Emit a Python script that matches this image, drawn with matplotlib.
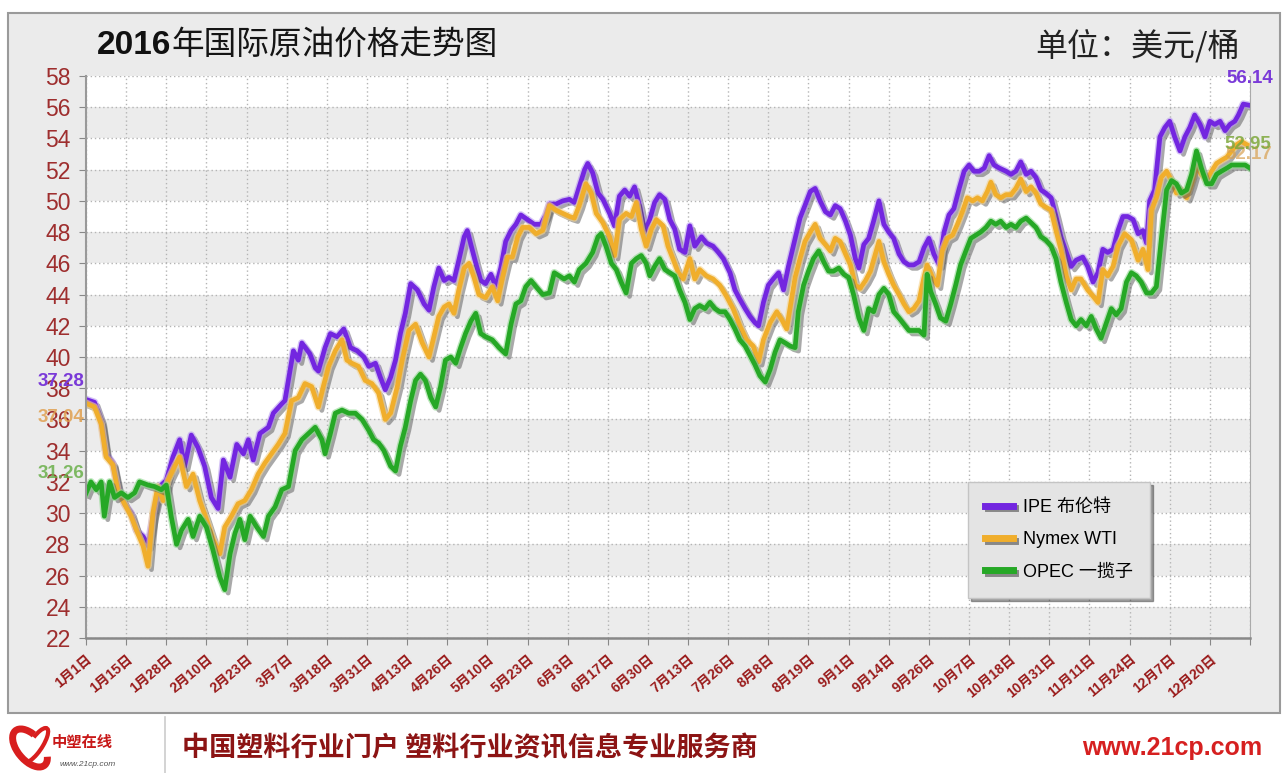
import matplotlib
matplotlib.use('Agg')
import matplotlib.pyplot as plt
import matplotlib.patheffects as pe
from matplotlib.patches import Rectangle, Arc
from matplotlib.text import Annotation
import numpy as np

plt.rcParams['font.family'] = ['Liberation Sans', 'Noto Sans CJK SC', 'DejaVu Sans']
plt.rcParams['axes.unicode_minus'] = False

# ---- data (trading-day index, price) ----
tick_labels = ['1月1日', '1月15日', '1月28日', '2月10日', '2月23日', '3月7日', '3月18日',
               '3月31日', '4月13日', '4月26日', '5月10日', '5月23日', '6月3日', '6月17日',
               '6月30日', '7月13日', '7月26日', '8月8日', '8月19日', '9月1日', '9月14日',
               '9月26日', '10月7日', '10月18日', '10月31日', '11月11日', '11月24日',
               '12月7日', '12月20日', '']

brent_day = [0, 1.9, 3.4, 4.5, 6.0, 7.1, 8.6, 10.1, 11.3, 12.8, 13.9, 15.0, 16.5, 18.0, 19.5,
             21.0, 22.1, 23.6, 25.1, 26.6, 28.1, 29.6, 30.8, 32.3, 33.8, 35.3, 36.4, 37.5, 39.0,
             40.9, 42.0, 43.9, 44.6, 46.5, 47.6, 48.4, 50.2, 51.4, 52.1, 53.6, 54.8, 56.3, 57.8,
             59.3, 60.8, 62.3, 63.4, 64.9, 66.0, 67.1, 68.3, 69.4, 70.5, 71.6, 72.8, 74.3, 75.8,
             76.9, 78.0, 79.1, 80.3, 81.4, 82.5, 83.6, 84.8, 85.5, 86.3, 87.4, 88.5, 89.6, 90.8,
             91.9, 93.0, 94.1, 95.3, 96.4, 97.5, 99.0, 100.5, 102.0, 103.1, 103.9, 105.4, 106.9,
             108.4, 109.5, 110.6, 111.8, 112.5, 113.6, 114.8, 115.9, 117.4, 118.5, 119.6, 120.8,
             121.9, 123.0, 124.1, 125.3, 126.4, 127.5, 128.6, 129.8, 130.9, 132.0, 133.1, 134.3,
             135.4, 136.5, 138.0, 139.1, 140.6, 141.8, 142.9, 144.4, 145.5, 146.6, 147.8, 148.9,
             150.0, 150.8, 151.9, 153.0, 154.1, 155.3, 156.4, 157.5, 159.0, 160.1, 161.2, 162.4,
             163.5, 164.6, 165.8, 166.9, 168.0, 169.1, 170.3, 171.4, 172.5, 173.3, 174.4, 175.5,
             176.6, 177.8, 178.9, 180.0, 181.1, 182.3, 183.4, 184.5, 185.6, 186.8, 187.9, 189.0,
             190.1, 191.3, 192.4, 193.5, 194.6, 195.8, 196.9, 198.0, 199.1, 200.3, 201.4, 202.5,
             203.6, 204.8, 206.3, 207.4, 208.5, 209.6, 210.8, 211.9, 213.0, 214.1, 215.2, 216.4,
             217.5, 218.6, 219.8, 220.9, 222.0, 223.5, 224.6, 225.8, 226.9, 228.0, 229.1, 230.3,
             231.4, 232.5, 233.6, 234.8, 235.9, 237.0, 237.8, 238.5, 239.6, 240.8, 241.9, 243.0,
             244.1, 245.3, 246.4, 247.5, 248.6, 249.8, 250.9, 252.0, 253.1, 254.3, 255.4, 256.5,
             257.6, 258.4, 259.5, 260.6]
brent_price = [37.28, 37.1, 35.9, 33.8, 33.2, 31.7, 30.6, 30.0, 28.9, 28.5, 27.9, 29.8, 31.7, 32.1,
               33.6, 34.7, 33.0, 35.0, 34.2, 33.0, 31.0, 30.3, 33.4, 32.3, 34.4, 33.8, 34.7, 33.4,
               35.1, 35.5, 36.4, 37.0, 37.2, 40.4, 39.8, 40.9, 40.2, 39.3, 39.1, 40.6, 41.5, 41.3,
               41.8, 40.6, 40.4, 40.0, 39.4, 39.6, 38.7, 37.9, 38.7, 39.8, 41.5, 42.8, 44.7, 44.3,
               43.4, 43.0, 44.5, 45.7, 44.9, 45.1, 44.9, 46.2, 47.7, 48.1, 47.2, 46.0, 44.9, 44.7,
               45.3, 44.5, 45.7, 47.4, 48.1, 48.5, 49.1, 48.8, 48.5, 48.5, 49.1, 49.8, 49.8, 50.0,
               50.1, 49.9, 50.9, 52.0, 52.4, 51.8, 50.5, 50.1, 49.2, 48.4, 50.3, 50.7, 50.3, 50.9,
               49.7, 48.0, 48.8, 49.9, 50.4, 50.1, 48.8, 48.2, 46.9, 46.7, 48.4, 47.1, 47.7, 47.3,
               47.1, 46.7, 46.3, 45.4, 44.3, 43.7, 43.1, 42.6, 42.2, 42.0, 43.5, 44.6, 45.0, 45.4,
               44.3, 45.8, 47.6, 48.9, 49.7, 50.6, 50.8, 50.0, 49.3, 49.1, 49.7, 49.5, 48.7, 47.8,
               46.3, 45.7, 47.2, 47.6, 48.7, 50.0, 48.5, 48.0, 47.6, 46.6, 46.1, 45.9, 45.9, 46.1,
               47.0, 47.6, 46.6, 45.9, 48.0, 49.1, 49.5, 50.8, 51.9, 52.3, 51.9, 51.9, 52.1, 52.9,
               52.3, 52.1, 51.9, 51.7, 51.9, 52.5, 51.7, 51.9, 51.5, 50.7, 50.5, 50.2, 49.0, 47.7,
               46.7, 45.8, 46.2, 46.4, 45.8, 44.8, 45.4, 46.9, 46.7, 46.9, 48.1, 49.0, 49.0, 48.8,
               47.9, 48.1, 47.3, 50.0, 50.7, 54.1, 54.7, 55.1, 54.1, 53.2, 54.1, 54.7, 55.5, 54.9,
               54.1, 55.1, 54.9, 55.1, 54.5, 54.9, 55.1, 55.5, 56.2, 56.14]

wti_day = [0, 1.9, 3.4, 4.5, 6.0, 7.1, 8.6, 10.1, 11.6, 12.8, 13.9, 15.0, 16.1, 17.3, 18.4, 19.9,
           21.0, 22.5, 24.0, 25.5, 27.0, 28.5, 30.0, 31.1, 32.6, 34.1, 35.6, 37.1, 38.6, 40.1,
           41.6, 43.1, 44.6, 46.1, 47.6, 49.1, 50.6, 52.1, 53.2, 54.4, 55.9, 57.4, 58.5, 59.6,
           61.1, 62.6, 64.1, 65.6, 67.1, 68.3, 69.8, 70.9, 72.4, 73.9, 75.4, 76.9, 78.0, 79.1,
           80.3, 81.4, 82.5, 83.6, 84.8, 85.9, 87.0, 88.1, 89.6, 91.1, 92.3, 93.4, 94.5, 95.6,
           96.8, 97.9, 99.4, 100.9, 102.4, 103.9, 105.4, 106.9, 108.4, 109.5, 110.6, 112.1, 113.3,
           114.4, 115.9, 117.4, 118.5, 119.6, 121.1, 122.3, 123.4, 124.5, 125.6, 126.8, 127.9,
           129.4, 130.5, 131.6, 132.8, 133.9, 135.4, 136.5, 137.6, 139.1, 140.6, 142.1, 143.6,
           145.1, 146.6, 148.1, 149.6, 150.8, 151.9, 153.4, 154.9, 156.0, 157.1, 159.0, 160.1,
           161.2, 162.4, 163.5, 164.6, 165.8, 166.9, 168.0, 169.1, 170.3, 171.4, 172.5, 173.6,
           174.8, 175.9, 177.0, 177.8, 178.9, 180.0, 181.1, 182.3, 183.4, 184.5, 185.6, 186.8,
           187.9, 188.6, 189.8, 190.9, 192.0, 193.1, 194.3, 195.4, 196.5, 197.6, 198.8, 199.9,
           201.0, 202.1, 202.9, 204.0, 205.1, 206.3, 207.4, 208.5, 209.6, 210.8, 211.9, 213.0,
           214.1, 215.2, 216.4, 217.5, 218.6, 219.8, 220.9, 222.0, 223.1, 224.6, 225.8, 226.9,
           228.0, 229.1, 230.3, 231.4, 232.9, 234.4, 235.9, 237.0, 238.1, 238.9, 240.0, 241.1,
           242.3, 243.4, 244.5, 245.6, 246.8, 247.9, 249.0, 250.1, 251.3, 252.4, 253.5, 254.6,
           255.8, 256.9, 258.0, 259.1, 260.3]
wti_price = [37.04, 36.8, 35.7, 33.6, 33.1, 31.5, 30.6, 29.8, 28.7, 27.9, 26.6, 30.0, 31.7, 30.8,
             32.1, 33.0, 33.6, 31.7, 32.5, 30.8, 29.6, 28.3, 27.4, 29.1, 29.8, 30.6, 30.8, 31.5,
             32.5, 33.2, 33.8, 34.4, 35.1, 37.2, 37.4, 38.3, 38.1, 36.8, 38.1, 39.4, 40.4, 41.1,
             39.8, 39.6, 39.4, 38.5, 38.3, 37.7, 36.0, 36.4, 38.1, 39.8, 41.7, 42.1, 40.9, 40.0,
             41.3, 42.6, 43.2, 43.4, 42.8, 44.3, 45.7, 46.0, 45.1, 44.0, 43.8, 44.5, 43.6, 45.1,
             46.4, 46.4, 47.7, 48.3, 48.3, 47.9, 48.1, 49.7, 49.4, 49.2, 49.0, 48.9, 49.7, 51.1,
             50.5, 49.2, 48.6, 47.7, 46.5, 48.8, 49.2, 49.0, 49.9, 48.2, 47.1, 48.2, 48.8, 48.4,
             47.1, 46.3, 45.4, 45.0, 46.3, 45.0, 45.6, 45.2, 45.0, 44.6, 43.9, 43.1, 42.0, 41.1,
             40.7, 39.7, 41.1, 42.2, 42.9, 42.4, 41.8, 45.1, 46.3, 47.4, 48.0, 48.5, 47.6, 47.2,
             46.8, 47.6, 47.4, 46.6, 45.9, 44.6, 44.4, 44.9, 45.5, 46.6, 47.4, 46.1, 45.3, 44.6,
             44.0, 43.4, 42.9, 43.1, 43.6, 45.1, 45.9, 45.1, 44.6, 46.8, 47.6, 47.8, 48.5, 49.3,
             50.2, 50.0, 50.2, 50.0, 50.6, 51.2, 50.4, 50.2, 50.4, 50.4, 50.8, 51.4, 50.6, 50.9,
             50.5, 49.8, 49.6, 49.4, 48.1, 46.9, 45.2, 44.3, 45.0, 45.0, 44.3, 43.9, 43.5, 45.6,
             45.2, 45.8, 47.1, 47.9, 47.5, 46.2, 46.9, 45.6, 49.4, 50.2, 51.5, 51.9, 51.3, 50.5,
             50.7, 50.2, 51.1, 52.2, 51.7, 51.3, 51.9, 52.4, 52.6, 52.8, 53.2, 53.6, 53.8, 53.6]

opec_day = [0, 1.1, 2.3, 3.4, 4.1, 5.3, 6.4, 7.9, 9.4, 10.9, 12.0, 13.9, 15.4, 16.9, 18.0, 19.1,
            20.3, 21.4, 22.9, 24.0, 25.5, 27.0, 28.5, 30.0, 31.1, 32.3, 33.4, 34.5, 35.6, 36.8,
            38.3, 39.8, 40.9, 42.4, 43.9, 45.4, 46.9, 48.4, 49.9, 51.4, 52.9, 53.6, 54.8, 55.9,
            57.4, 58.9, 60.4, 61.9, 63.4, 64.5, 65.6, 66.8, 68.3, 69.4, 70.5, 71.6, 72.8, 73.9,
            75.0, 76.1, 77.3, 78.4, 79.5, 80.6, 81.8, 82.9, 84.0, 85.1, 86.3, 87.4, 88.5, 89.6,
            91.1, 92.6, 94.1, 95.3, 96.4, 97.5, 98.6, 99.8, 100.9, 102.4, 103.9, 105.0, 106.1,
            107.2, 108.4, 109.5, 110.6, 112.1, 113.6, 114.8, 115.5, 116.6, 117.8, 118.9, 120.0,
            121.1, 122.3, 123.4, 124.5, 125.6, 126.4, 127.5, 128.6, 129.8, 130.9, 132.0, 133.1,
            134.3, 135.4, 136.5, 137.6, 138.8, 139.9, 141.0, 142.1, 143.3, 144.4, 145.5, 146.6,
            147.8, 148.9, 150.0, 151.1, 152.3, 153.4, 154.5, 155.6, 156.8, 157.9, 159.0, 159.7,
            160.9, 162.0, 163.1, 164.3, 165.4, 166.5, 167.6, 168.8, 169.9, 171.0, 172.1, 173.3,
            174.4, 175.5, 176.6, 177.8, 178.9, 180.0, 181.1, 182.3, 183.4, 184.5, 185.6, 186.8,
            187.9, 188.6, 189.4, 190.5, 191.6, 192.8, 193.9, 195.0, 196.1, 197.3, 198.4, 199.5,
            200.6, 201.8, 202.9, 204.0, 205.1, 206.3, 207.4, 208.5, 209.6, 210.8, 211.9, 213.0,
            214.1, 215.2, 216.4, 217.5, 218.6, 219.8, 220.9, 222.0, 223.1, 224.3, 225.4, 226.5,
            227.6, 228.8, 229.9, 231.0, 232.1, 233.3, 234.4, 235.5, 236.6, 237.8, 238.9, 240.0,
            241.1, 242.3, 243.4, 244.5, 245.6, 246.8, 247.9, 249.0, 250.1, 251.3, 252.4, 253.5,
            254.6, 255.8, 256.9, 258.4, 259.9, 261.0]
opec_price = [31.26, 32.0, 31.5, 32.0, 29.8, 32.0, 31.0, 31.3, 31.0, 31.3, 32.0, 31.8, 31.7, 31.5,
              31.8, 29.8, 28.0, 28.9, 29.6, 28.5, 29.8, 29.1, 27.6, 25.9, 25.1, 27.4, 28.7, 29.6,
              28.3, 29.8, 29.1, 28.5, 29.8, 30.4, 31.5, 31.7, 34.0, 34.7, 35.1, 35.5, 34.7, 33.8,
              35.1, 36.4, 36.6, 36.4, 36.4, 36.0, 35.3, 34.7, 34.5, 34.0, 33.0, 32.7, 34.3, 35.5,
              37.2, 38.5, 38.9, 38.5, 37.4, 36.8, 38.1, 39.8, 40.0, 39.6, 40.6, 41.5, 42.3, 42.8,
              41.5, 41.3, 41.1, 40.6, 40.2, 42.1, 43.4, 43.6, 44.5, 44.9, 44.5, 44.0, 44.1, 45.4,
              45.2, 45.0, 45.2, 44.8, 45.6, 46.0, 46.7, 47.7, 47.9, 47.1, 46.0, 45.6, 44.8, 44.1,
              46.0, 46.3, 46.5, 46.0, 45.2, 45.8, 46.3, 45.6, 45.4, 45.2, 44.3, 43.5, 42.4, 43.1,
              43.3, 43.1, 43.5, 43.1, 42.9, 42.9, 42.4, 41.8, 41.1, 40.7, 40.1, 39.5, 38.8, 38.4,
              39.2, 40.3, 41.1, 40.9, 40.7, 40.6, 42.9, 44.6, 45.5, 46.3, 46.8, 46.1, 45.5, 45.5,
              45.7, 45.3, 45.1, 44.0, 42.5, 41.7, 43.1, 42.9, 44.0, 44.4, 44.0, 42.9, 42.5, 42.1,
              41.7, 41.7, 41.7, 41.4, 45.3, 44.2, 43.4, 42.5, 42.3, 43.4, 44.6, 45.9, 46.8, 47.6,
              47.8, 48.0, 48.3, 48.7, 48.5, 48.7, 48.3, 48.5, 48.3, 48.7, 48.9, 48.6, 48.3, 47.7,
              47.5, 47.1, 46.3, 44.8, 43.5, 42.4, 42.0, 42.4, 42.0, 42.6, 41.8, 41.2, 42.2, 43.1,
              42.7, 43.1, 44.8, 45.4, 45.2, 44.8, 44.1, 44.1, 44.5, 47.5, 50.7, 51.3, 51.1, 50.5,
              50.7, 51.7, 53.2, 52.1, 51.1, 51.1, 51.7, 51.9, 52.1, 52.3, 52.3, 52.3, 52.1]

series = [
    ('IPE 布伦特', brent_day, brent_price, '#7326e0', '#b89af0'),
    ('Nymex WTI', wti_day, wti_price, '#f0ae2c', '#f6d48e'),
    ('OPEC 一揽子', opec_day, opec_price, '#26a826', '#8fd88f'),
]

W, H = 1283, 773
fig = plt.figure(figsize=(W / 100, H / 100), dpi=100)
fig.patch.set_facecolor('white')

# chart panel
fig.patches.append(Rectangle((8 / W, 1 - 713 / H), (1280 - 8) / W, (713 - 13) / H,
                             transform=fig.transFigure, facecolor='#ebebeb',
                             edgecolor='#9a9a9a', lw=1.5, zorder=-5))

ax = fig.add_axes([86 / W, 1 - 638 / H, (1250 - 86) / W, (638 - 76) / H])
ax.set_zorder(3)
ax.set_facecolor('white')
ax.set_xlim(0, 261)
ax.set_ylim(22, 58)

for lo in range(22, 58, 4):
    ax.axhspan(lo, lo + 2, color='#ececec', zorder=0, lw=0)

ax.set_yticks(np.arange(22, 59, 2))
ax.set_xticks(np.arange(0, 262, 9))
ax.set_xticklabels(tick_labels, rotation=40, ha='right', va='top', rotation_mode='anchor',
                   fontsize=10, fontweight='bold', color='#9a1c1c')
ax.tick_params(axis='y', labelsize=16.5, labelcolor='#9e2e2e', color='#888888', length=5, pad=6)
ax.tick_params(axis='x', color='#888888', length=5, pad=5)
ax.grid(True, color='#b4b4b4', ls=(0, (1, 2)), lw=1)
ax.set_axisbelow(True)
ax.spines['top'].set_visible(False)
ax.spines['left'].set_color('#999999')
ax.spines['right'].set_color('#aaaaaa')
ax.spines['bottom'].set_color('#888888')
ax.spines['bottom'].set_linewidth(1.8)
ax.spines['left'].set_linewidth(1.5)

for name, day, price, col, glow in series:
    ax.plot(day, price, color=col, lw=3.4, label=name, solid_joinstyle='round',
            path_effects=[pe.SimpleLineShadow(offset=(2.5, -2.5), shadow_color='#555555', alpha=0.5),
                          pe.Stroke(linewidth=5.4, foreground=glow, alpha=0.6),
                          pe.Normal()])

# value labels at both ends
lab = dict(fontsize=13.5, fontweight='bold')
ax.annotate('37.28', (brent_day[0], brent_price[0]), xytext=(-1, 13), textcoords='offset points',
            ha='right', va='center', color='#7a3ad8', annotation_clip=False, **lab)
ax.annotate('37.04', (wti_day[0], wti_price[0]), xytext=(-1, -10), textcoords='offset points',
            ha='right', va='center', color='#e0a050', alpha=0.85, annotation_clip=False, **lab)
ax.annotate('31.26', (opec_day[0], opec_price[0]), xytext=(-1, 14), textcoords='offset points',
            ha='right', va='center', color='#6ab04a', alpha=0.85, annotation_clip=False, **lab)
ax.annotate('56.14', (brent_day[-1], brent_price[-1]), xytext=(1, 19), textcoords='offset points',
            ha='center', va='center', color='#7a3ad8', annotation_clip=False, **lab)
ax.annotate('52.17', (opec_day[-1], opec_price[-1]), xytext=(-1, 10), textcoords='offset points',
            ha='center', va='center', color='#d8a050', alpha=0.7, annotation_clip=False, **lab)
ax.annotate('52.95', (wti_day[-1], wti_price[-1]), xytext=(1, 0), textcoords='offset points',
            ha='center', va='center', color='#7ea83c', alpha=0.85, annotation_clip=False, **lab)

leg = ax.legend(loc='upper left', bbox_to_anchor=(0.758, 0.278), fontsize=13,
                frameon=True, fancybox=False, shadow=True, handlelength=1.5,
                handletextpad=0.6, labelspacing=0.85, borderpad=0.95, borderaxespad=0)
leg.get_frame().set_facecolor('#e4e4e4')
leg.get_frame().set_edgecolor('#c4c4c4')
for line in leg.get_lines():
    line.set_linewidth(5)
    line.set_path_effects([pe.SimpleLineShadow(offset=(2, -2), alpha=0.4), pe.Normal()])

# titles
t = fig.text(97 / W, 1 - 45 / H, '2016', fontsize=24, fontweight='bold', color='#111111',
             va='center', ha='left')
fig.add_artist(Annotation('年国际原油价格走势图', xy=(1, 0.5), xycoords=t, va='center',
                          ha='left', fontsize=23.5, color='#151515', fontweight='medium',
                          family=['Noto Sans CJK SC']))
fig.text(1240 / W, 1 - 46 / H, '单位：美元/桶', fontsize=23, color='#222222', va='center',
         ha='right', family=['Noto Sans CJK SC'])

# footer
fig.add_artist(plt.Line2D([165 / W, 165 / W], [0, 1 - 717 / H], transform=fig.transFigure,
                          color='#cccccc', lw=1.2))
fig.patches.append(Arc((30 / W, 1 - 748 / H), 28 / W, 40 / H, angle=20, theta1=60, theta2=300,
                       transform=fig.transFigure, color='#d81e1e', lw=5))
fig.patches.append(Arc((36 / W, 1 - 745 / H), 14 / W, 36 / H, angle=-20, theta1=-90, theta2=120,
                       transform=fig.transFigure, color='#d81e1e', lw=3))
fig.text(52 / W, 1 - 742 / H, '中塑在线', fontsize=11, color='#c81818', fontweight='bold',
         style='italic', va='center', ha='left', family=['Noto Sans CJK SC'])
fig.text(60 / W, 1 - 764 / H, 'www.21cp.com', fontsize=6, color='#555555', style='italic',
         va='center', ha='left')
fig.text(182 / W, 1 - 748 / H, '中国塑料行业门户 塑料行业资讯信息专业服务商', fontsize=19.5,
         fontweight='bold', color='#8c1414', va='center', ha='left', family=['Noto Sans CJK SC'])
fig.text(1262 / W, 1 - 748 / H, 'www.21cp.com', fontsize=18, fontweight='bold', color='#d62020',
         va='center', ha='right')

fig.savefig('out.png', dpi=100, facecolor=fig.get_facecolor())
